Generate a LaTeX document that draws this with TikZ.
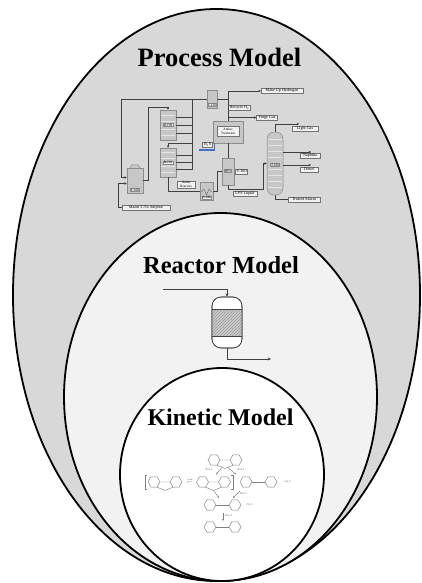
\documentclass[tikz,border=0pt]{standalone}
\usepackage{fontspec}
\setmainfont{Liberation Serif}
\usetikzlibrary{arrows.meta,patterns}
\definecolor{outerfill}{HTML}{D8D8D8}
\definecolor{midfill}{HTML}{F2F2F2}
\definecolor{h2sblue}{HTML}{4472C4}
\newcommand{\fsfont}{\fontsize{4.1}{4.4}\selectfont}
\newcommand{\eqfont}{\fontsize{3.4}{3.8}\selectfont}
\newcommand{\chfont}{\fontsize{2.8}{3.2}\selectfont}
\tikzset{
  ringline/.style={draw=black, line width=1.8pt},
  modeltitle/.style={inner sep=0pt, anchor=base},
  fsline/.style={draw=black!75, line width=0.9pt},
  fsarrow/.style={fsline, -{Stealth[length=2.4pt,width=2.4pt]}},
  equip/.style={draw=black!45, fill=black!22, line width=0.5pt, inner sep=0pt},
  fslabel/.style={draw=black!55, fill=black!5, line width=0.4pt, inner sep=0.5pt, minimum height=5pt, font=\fsfont, align=center},
  eqlabel/.style={draw=black!45, fill=black!8, line width=0.3pt, inner sep=0.4pt, font=\eqfont},
  rxline/.style={draw=black!75, line width=0.6pt},
  chem/.style={draw=black!50, line width=0.45pt},
  chemarrow/.style={chem, -{Stealth[length=2pt,width=1.8pt]}},
  chemtext/.style={font=\chfont, text=black!60, inner sep=0.3pt},
  hexring/.pic={\draw[chem] (0:6) -- (60:6) -- (120:6) -- (180:6) -- (240:6) -- (300:6) -- cycle;},
  biphenyl/.pic={\pic at (-12.5,0) {hexring}; \pic at (12.5,0) {hexring}; \draw[chem] (-6.5,0) -- (6.5,0);},
  dbtmol/.pic={\pic at (-11,0) {hexring}; \pic at (11,0) {hexring}; \draw[chem] (-5,0) -- (5,0) (-8,5.2) -- (0,8.5) -- (8,5.2);},
}
\begin{document}
\begin{tikzpicture}[x=1pt,y=-1pt]
\useasboundingbox (0,0) rectangle (422,583);
\fill[white] (0,0) rectangle (422,583);
% nested model ellipses
\draw[ringline, fill=outerfill] (216.5,295) ellipse [x radius=203.5, y radius=286];
\draw[ringline, fill=midfill] (220.5,397) ellipse [x radius=156.5, y radius=184];
\draw[ringline, fill=white] (222,474.5) ellipse [x radius=102, y radius=106.5];
% titles
\node[modeltitle, font=\fontsize{26.5}{30}\selectfont\bfseries] (ptitle) at (219.5,67) {Process Model};
\node[modeltitle, font=\fontsize{24.5}{28}\selectfont\bfseries] (rtitle) at (221,273) {Reactor Model};
\node[modeltitle, font=\fontsize{24}{28}\selectfont\bfseries] (ktitle) at (220.5,425) {Kinetic Model};

% ---------------- process flowsheet ----------------
\node[equip, minimum width=16pt, minimum height=25pt] (F100) at (135,180.5) {};
\draw[equip] ([xshift=-5pt]F100.north) -- ++(2,-3) -- ++(6,0) -- ([xshift=5pt]F100.north);
\node[equip, minimum width=16pt, minimum height=30pt] (R100) at (168,125) {};
\node[equip, minimum width=16pt, minimum height=29pt] (R101) at (168,162.5) {};
\node[equip, minimum width=10pt, minimum height=18pt] (E101) at (212,99) {};
\node[equip, minimum width=30pt, minimum height=22pt] (Amine) at (228,132) {};
\node[equip, minimum width=12pt, minimum height=27pt] (HPS) at (228,171.5) {};
\node[equip, minimum width=13pt, minimum height=18pt] (E100) at (206.5,191) {};
\node[equip, minimum width=16pt, minimum height=63pt, rounded corners=7pt] (T100) at (275,163.5) {};
\foreach \nm in {R100,R101} {
  \foreach \d in {-10,-4,4,10}
    \draw[black!10, line width=0.5pt] ([xshift=1pt,yshift=\d pt]\nm.west) -- ([xshift=-1pt,yshift=\d pt]\nm.east);
}
\foreach \d in {-24,-18,-12,-6,6,12,18,24}
  \draw[black!10, line width=0.5pt] ([xshift=1pt,yshift=\d pt]T100.west) -- ([xshift=-1pt,yshift=\d pt]T100.east);
\draw[black!60, line width=0.4pt] ([xshift=-5pt,yshift=-1pt]E100.center) -- ++(2.5,-3) -- ++(2.5,6) -- ++(2.5,-6) -- ++(2.5,3);

\node[eqlabel] (F100lab) at (135,190) {F-100};
\node[eqlabel] (R100lab) at (168,125) {R-100};
\node[eqlabel] (R101lab) at (168,162.5) {R-101};
\node[eqlabel] (E101lab) at (212,105) {E-101};
\node[eqlabel] (HPSlab) at (228,171) {HPS};
\node[eqlabel] (E100lab) at (206.5,197.5) {E-100};
\node[eqlabel] (T100lab) at (275,165) {T-100};
\node[fslabel, font=\eqfont, minimum width=22pt, minimum height=10pt] (amineLab) at (228,131.5) {Amine\\Treatment};

\node[fslabel, minimum width=48pt] (mazut) at (146,207.5) {Mazut 3.5\% Sulphur};
\node[fslabel, minimum width=42pt] (makeup) at (282,91) {Make Up Hydrogen};
\node[fslabel, minimum width=22pt] (recycle) at (239.5,107.5) {Recycle H\textsubscript{2}};
\node[fslabel, minimum width=21pt] (purge) at (267,117.5) {Purge Gas};
\node[fslabel, minimum width=10pt] (h2s) at (207.5,144.5) {H\textsubscript{2}S};
\node[fslabel, font=\eqfont, minimum width=18pt] (outlet) at (186,184.5) {Outlet\\Reactors};
\node[fslabel, minimum width=12pt] (v100) at (241.5,171.5) {V-100};
\node[fslabel, minimum width=24pt] (lps) at (245,194) {LPS Liquid};
\node[fslabel, minimum width=26pt] (light) at (305,129) {Light Gas};
\node[fslabel, minimum width=20pt] (naphtha) at (310,155.5) {Naphtha};
\node[fslabel, minimum width=18pt] (diesel) at (309,169.5) {Diesel};
\node[fslabel, minimum width=32pt] (treated) at (304,199.5) {Treated Mazut};

\coordinate (rcTop) at (121,99);
\coordinate (feedTurn) at (118,207.5);
\coordinate (frTurn) at (148,107);
\coordinate (busTop) at (192,99);
\coordinate (busBot) at (192,170);
\coordinate (bus1) at (192,117);
\coordinate (bus2) at (192,125);
\coordinate (bus3) at (192,133);
\coordinate (bus4) at (192,155);
\coordinate (bus5) at (192,162);
\coordinate (bus6) at (192,169);
\coordinate (busR) at (192,143);
\coordinate (purgeJ) at (228,117.5);
\coordinate (h2sIn) at (199,150);
\coordinate (hpsTurn) at (263,189);
\coordinate (lightEnd) at (299,124);
\coordinate (naphEnd) at (311,152);
\coordinate (dieselEnd) at (311,165);

\draw[fsarrow] (E101.west) -- (rcTop) |- (F100.160);
\draw[fsarrow] (mazut.west) -- (feedTurn) |- (F100.200);
\draw[fsarrow] (F100.east) -| (frTurn) -| (R100.north);
\draw[fsline] (busTop) -- (busBot);
\foreach \bp/\nm in {bus1/R100,bus2/R100,bus3/R100,bus4/R101,bus5/R101,bus6/R101}
  \draw[fsline] (\nm.east |- \bp) -- (\bp);
\draw[fsarrow] (busR) -| (R101.north);
\draw[fsline] (R101.south) |- (E100.west);
\draw[fsline] (E100.east) -- ++(4.5,0) |- (HPS.west);
\draw[fsline] (Amine.south) -- (HPS.north);
\draw[fsarrow] (Amine.north) |- (makeup.west);
\draw[fsline] (E101.east) -- (E101.east -| Amine.north);
\draw[fsarrow] (purgeJ) -- (purge.west);
\draw[h2sblue, line width=1.3pt] (h2sIn) -| ([xshift=1.5pt]Amine.south west);
\draw[fsarrow] (HPS.south) |- (hpsTurn) |- (T100.west);
\draw[fsarrow] (T100.north) |- (lightEnd);
\draw[fsarrow] (T100.east |- naphEnd) -- (naphEnd);
\draw[fsarrow] (T100.east |- dieselEnd) -- (dieselEnd);
\draw[fsline] (T100.south) |- (treated.west);

% ---------------- reactor ----------------
\node[draw=black!75, line width=0.6pt, fill=white, minimum width=30pt, minimum height=51pt, rounded corners=9pt, inner sep=0pt] (vessel) at (227,322.5) {};
\fill[black!20] ([yshift=13.5pt]vessel.west) rectangle ([yshift=-13.5pt]vessel.east);
\fill[pattern=north east lines, pattern color=black!40] ([yshift=13.5pt]vessel.west) rectangle ([yshift=-13.5pt]vessel.east);
\draw[black!75, line width=0.6pt] ([yshift=13.5pt]vessel.west) -- ([yshift=13.5pt]vessel.east) ([yshift=-13.5pt]vessel.west) -- ([yshift=-13.5pt]vessel.east);
\node[draw=black!75, line width=0.6pt, minimum width=30pt, minimum height=51pt, rounded corners=9pt, inner sep=0pt] (vesselrim) at (vessel) {};
\coordinate (rin) at (163,289);
\coordinate (rout) at (271,359);
\draw[rxline, -{Stealth[length=3.2pt,width=3pt]}] (rin) -| (vessel.north);
\draw[rxline, -{Stealth[length=3.2pt,width=3pt]}] (vessel.south) |- (rout);

% ---------------- kinetic network ----------------
\pic at (225,460) {dbtmol};
\draw[chem] (147,475) -- (145,475) -- (145,489) -- (147,489);
\pic at (165,482) {dbtmol};
\node[chemtext, font=\fontsize{5}{5}\selectfont] (eqm) at (189.5,482) {$\rightleftharpoons$};
\pic at (213.5,482) {dbtmol};
\draw[chem] (231,475) -- (233,475) -- (233,489) -- (231,489);
\pic at (258.5,482) {biphenyl};
\node[chemtext] (h2sA) at (287,482) {+ H\textsubscript{2}S};
\draw[chemarrow] (222,467.5) -- (216,474.5);
\draw[chemarrow] (228,467.5) -- (236,474.5);
\node[chemtext] (rx1) at (209,469.5) {Rxn 1};
\node[chemtext] (rx2) at (241,469.5) {Rxn 2};
\draw[chemarrow] (214,491) -- (219,498);
\draw[chemarrow] (240,491) -- (233,498);
\node[chemtext] (rx3) at (243.5,494) {Rxn 3};
\pic at (222.5,505) {biphenyl};
\node[chemtext] (h2sB) at (249,505) {+ H\textsubscript{2}S};
\draw[chemarrow] (223,513) -- (223,521);
\node[chemtext] (rx4) at (228.5,515.5) {Rxn 4};
\pic at (222.5,527) {biphenyl};
\end{tikzpicture}
\end{document}
